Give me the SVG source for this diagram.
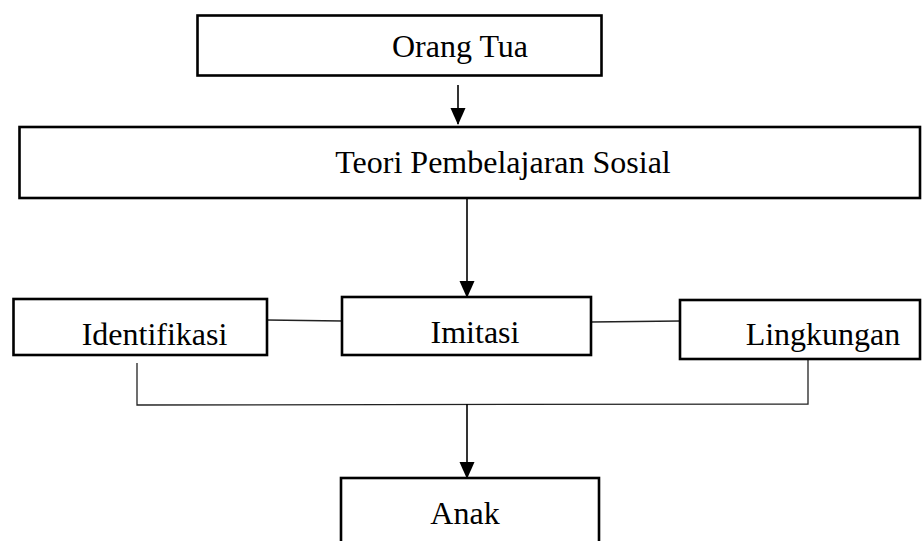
<svg xmlns="http://www.w3.org/2000/svg" width="922" height="541" viewBox="0 0 922 541">
<style>
.box{fill:#fff;stroke:#000;stroke-width:2.6}
.lbl{font-family:"Liberation Serif","Times New Roman",serif;font-size:32px;fill:#000;text-anchor:middle}
.ln{fill:none;stroke:#222;stroke-width:1.3}
.ar{fill:none;stroke:#000;stroke-width:1.6}
</style>
<defs>
<marker id="arr" markerUnits="userSpaceOnUse" markerWidth="17" markerHeight="16" refX="16" refY="7.5" orient="auto" viewBox="0 0 17 15">
<path d="M0,0 L17,7.5 L0,15 Z" fill="#000"/>
</marker>
</defs>
<rect width="922" height="541" fill="#fff"/>
<g id="connectors">
<line class="ar" x1="458" y1="85" x2="458" y2="124" marker-end="url(#arr)"/>
<line class="ar" x1="467" y1="198" x2="467" y2="297" marker-end="url(#arr)"/>
<line class="ln" x1="267" y1="320" x2="342" y2="321"/>
<line class="ln" x1="591" y1="322" x2="680" y2="321"/>
<polyline class="ln" points="137,363 137,405 808,404 808,359"/>
<line class="ar" x1="467" y1="404" x2="467" y2="478" marker-end="url(#arr)"/>
</g>
<g id="node-orang-tua">
<rect class="box" x="197.5" y="15.5" width="404" height="60"/>
<text class="lbl" x="460" y="57">Orang Tua</text>
</g>
<g id="node-teori">
<rect class="box" x="19.5" y="127" width="900.5" height="71"/>
<text class="lbl" x="503" y="173">Teori Pembelajaran Sosial</text>
</g>
<g id="node-identifikasi">
<rect class="box" x="13.5" y="299" width="253.5" height="56"/>
<text class="lbl" x="154.5" y="345">Identifikasi</text>
</g>
<g id="node-imitasi">
<rect class="box" x="342" y="297" width="249" height="58"/>
<text class="lbl" x="475" y="343">Imitasi</text>
</g>
<g id="node-lingkungan">
<rect class="box" x="680" y="300" width="240" height="59"/>
<text class="lbl" x="823" y="345">Lingkungan</text>
</g>
<g id="node-anak">
<rect class="box" x="341" y="478" width="258" height="80"/>
<text class="lbl" x="465" y="524">Anak</text>
</g>
</svg>
